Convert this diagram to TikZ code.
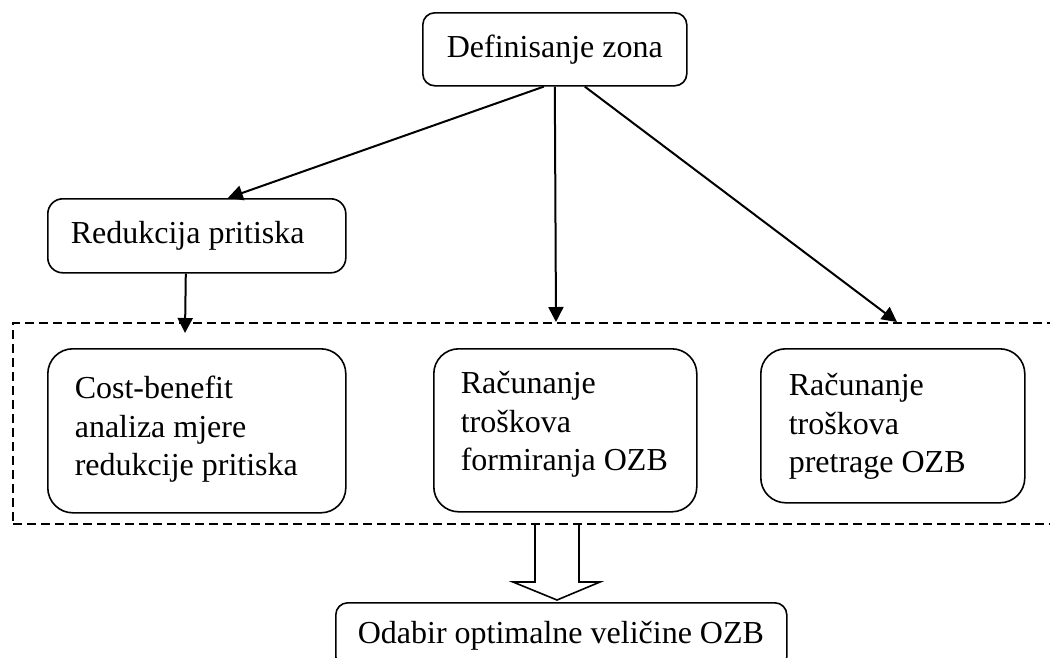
\documentclass[tikz,border=0pt]{standalone}
\usepackage{fontspec}
\setmainfont{Liberation Serif}
\usetikzlibrary{arrows.meta,calc}
\newcommand{\nsp}{\spaceskip=0pt\xspaceskip=0pt\relax}
\begin{document}
\begin{tikzpicture}[x=1pt,y=-1pt,
  rbox/.style={draw, line width=1.6pt, rounded corners=#1, inner ysep=0pt},
  tbox/.style={align=flush left},
  conn/.style={line width=2pt, -{Triangle[length=15pt,width=15pt]}},
  grpbox/.style={draw, line width=1.6pt, dash pattern=on 9pt off 5pt, inner sep=0pt},
  font=\fontsize{32}{38.5}\selectfont]
\clip (0,0) rectangle (1050,657);
% top
\node[rbox=12pt, minimum width=264pt, minimum height=73pt, anchor=north west, inner xsep=0pt] (def) at (422,12) {Definisanje zona};
\node[rbox=15pt, tbox, minimum height=74pt, anchor=north west, text width=252pt, inner xsep=23pt] (red) at (47,198) {\nsp\mbox{Redukcija pritiska}};
% group
\node[grpbox, minimum width=1058pt, minimum height=201pt, anchor=north west] (grp) at (12,322) {};
\node[rbox=25pt, tbox, anchor=north west, text width=244pt, inner xsep=27pt] (cb) at (47,348)
  {\nsp\rule{0pt}{50pt}\mbox{Cost-benefit}\\\mbox{analiza mjere}\\\mbox{redukcije pritiska}\rule[-37pt]{0pt}{37pt}};
\node[rbox=25pt, tbox, anchor=north west, text width=209pt, inner xsep=27pt] (form) at (433,348)
  {\nsp\rule{0pt}{45pt}\mbox{Računanje}\\\mbox{troškova}\\\mbox{formiranja OZB}\rule[-41pt]{0pt}{41pt}};
\node[rbox=25pt, tbox, anchor=north west, text width=208pt, inner xsep=28pt] (pret) at (760,348)
  {\nsp\rule{0pt}{47pt}\mbox{Računanje}\\\mbox{troškova}\\\mbox{pretrage OZB}\rule[-30pt]{0pt}{30pt}};
% bottom
\node[rbox=12pt, tbox, minimum height=66pt, anchor=north west, text width=407pt, inner xsep=22pt] (odb) at (335,602) {\nsp\mbox{Odabir optimalne veličine OZB}};
% arrow end points
\coordinate (tl) at (185,333);
\coordinate (tm) at (556,322);
\coordinate (tr) at (897,322);
\draw[conn] ([xshift=-11pt]def.south) -- ([xshift=31pt]red.north);
\draw[conn] (def.south) -- (tm);
\draw[conn] ([xshift=30pt]def.south) -- (tr);
\draw[conn] ([xshift=-11pt]red.south) -- (tl);
% block arrow
\draw[line width=1.6pt, line join=miter]
  (535,524) -- (535,582) -- (513,582) -- (557,600) -- (600,582) -- (579,582) -- (579,524);
\end{tikzpicture}
\end{document}
